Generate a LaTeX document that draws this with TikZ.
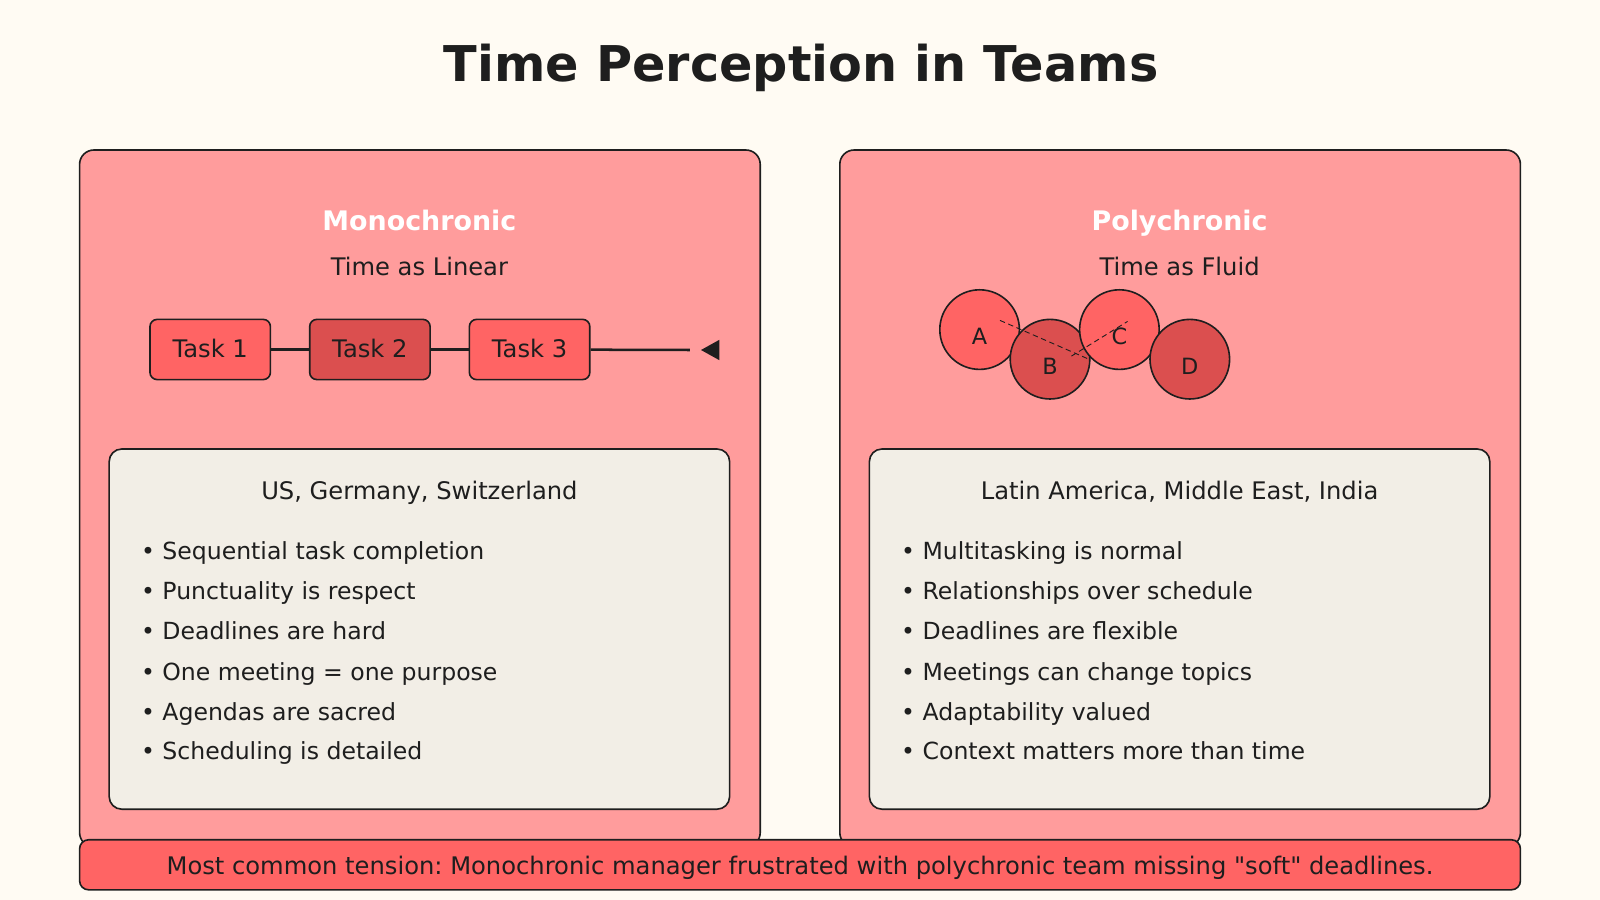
\documentclass[tikz,border=0pt]{standalone}
\usepackage{fontspec}
\setmainfont{DejaVu Sans}
\newfontfamily\rawf{DejaVu Sans}
\begin{document}
\frenchspacing
\definecolor{bg}{HTML}{FFFBF3}
\definecolor{panel}{HTML}{FF9C9C}
\definecolor{red1}{HTML}{FF6464}
\definecolor{red2}{HTML}{DB4F4F}
\definecolor{inner}{HTML}{F2EEE6}
\definecolor{ink}{HTML}{1E1E1E}
\begin{tikzpicture}[x=0.02cm,y=-0.02cm,
  fixh/.style={text height=1.6ex,text depth=0.4ex},
  panelst/.style={draw=ink,line width=0.9pt,fill=panel,rounded corners=8pt},
  innerst/.style={draw=ink,line width=0.9pt,fill=inner,rounded corners=7pt},
  task/.style={draw=ink,line width=0.9pt,rounded corners=4pt,minimum width=118*0.02cm,minimum height=59*0.02cm,font=\fontsize{13.5}{15}\selectfont,text=ink,inner sep=0pt},
  circ/.style={circle,draw=ink,line width=0.9pt,minimum size=78*0.02cm,inner sep=0pt},
  lbl/.style={font=\fontsize{12.5}{14}\selectfont,text=ink,fixh},
  bul/.style={font=\fontsize{13.15}{15}\selectfont,text=ink,anchor=west,fixh},
  head/.style={font=\bfseries\fontsize{15}{17}\selectfont,text=white,fixh},
  sub/.style={font=\fontsize{13.5}{15}\selectfont,text=ink,fixh}]
\fill[bg] (0,0) rectangle (1568,882);
\node[font=\bfseries\fontsize{27.5}{30}\selectfont,text=ink,fixh] (title) at (785,74) {Time Perception in Teams};
\draw[panelst] (78,147) rectangle (745,830);
\draw[panelst] (823,147) rectangle (1490,830);
% left
\node[head] (mh) at (411,220) {Monochronic};
\node[sub] (ms) at (411,264) {Time as Linear};
\node[task,fill=red1] (t1) at (206,342.5) {\raisebox{1.5pt}{Task 1}};
\node[task,fill=red2] (t2) at (362.5,342.5) {\raisebox{1.5pt}{Task 2}};
\node[task,fill=red1] (t3) at (519,342.5) {\raisebox{1.5pt}{Task 3}};
\coordinate (tend) at (676,343);
\draw[ink,line width=1.4pt] (t1) -- (t2);
\draw[ink,line width=1.4pt] (t2) -- (t3);
\draw[ink,line width=1.4pt] (t3) -- (tend);
\fill[ink] (687,343) -- (705,333) -- (705,353) -- cycle;
\draw[innerst] (107,440) rectangle (715,793);
\node[sub] (mr) at (411,484) {US, Germany, Switzerland};
\node[bul] (m1) at (132,543) {• Sequential task completion};
\node[bul] (m2) at (132,582) {• Punctuality is respect};
\node[bul] (m3) at (132,621) {• Deadlines are hard};
\node[bul] (m4) at (132,661) {• One meeting = one purpose};
\node[bul] (m5) at (132,700) {• Agendas are sacred};
\node[bul] (m6) at (132,739) {• Scheduling is detailed};
% right
\node[head] (ph) at (1156,220) {Polychronic};
\node[sub] (ps) at (1156,264) {Time as Fluid};
\node[circ,fill=red1] (A) at (960,323) {};
\node[circ,fill=red2] (B) at (1029,352) {};
\node[circ,fill=red1] (C) at (1097,323) {};
\node[circ,fill=red2] (D) at (1166,352) {};
\node[lbl] at (960,332) {A};
\node[lbl] at (1029,361) {B};
\node[lbl] at (1097,332) {C};
\node[lbl] at (1166,361) {D};
\coordinate (a1) at (980,314); \coordinate (b1) at (1067,352);
\coordinate (b2) at (1050,349); \coordinate (c1) at (1105,315);
\draw[ink,line width=0.5pt,dash pattern=on 3pt off 2pt] (a1) -- (b1);
\draw[ink,line width=0.5pt,dash pattern=on 3pt off 2pt] (b2) -- (c1);
\draw[innerst] (852,440) rectangle (1460,793);
\node[sub] (pr) at (1156,484) {Latin America, Middle East, India};
\node[bul] (p1) at (877,543) {• Multitasking is normal};
\node[bul] (p2) at (877,582) {• Relationships over schedule};
\node[bul] (p3) at (877,621) {• Deadlines are flexible};
\node[bul] (p4) at (877,661) {• Meetings can change topics};
\node[bul] (p5) at (877,700) {• Adaptability valued};
\node[bul] (p6) at (877,739) {• Context matters more than time};
% bottom
\draw[draw=ink,line width=0.9pt,fill=red1,rounded corners=5pt] (78,823) rectangle (1490,872);
\node[sub] (bt) at (784,851) {Most common tension: Monochronic manager frustrated with polychronic team missing {\rawf"}soft{\rawf"} deadlines.};
\end{tikzpicture}
\end{document}
